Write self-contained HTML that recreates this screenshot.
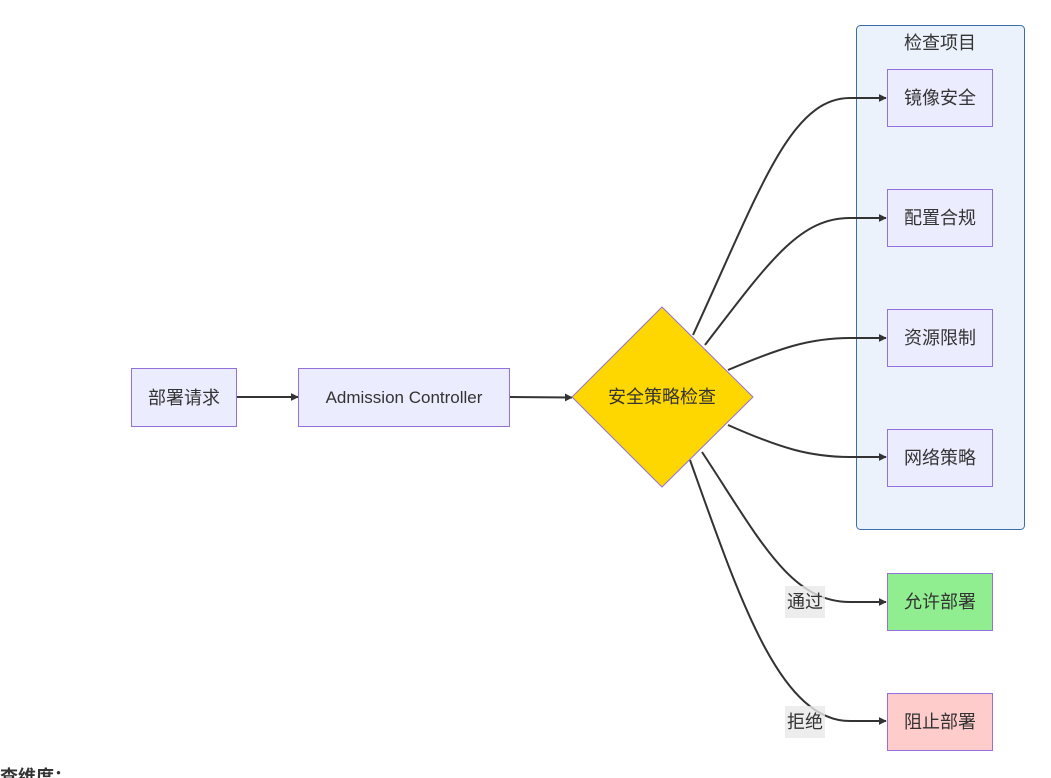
<!DOCTYPE html>
<html><head><meta charset="utf-8"><style>
html,body{margin:0;padding:0;background:#fff;width:1051px;height:778px;overflow:hidden}
text{font-family:"Liberation Sans","Noto Sans CJK SC",sans-serif;fill:#333}
</style></head><body>
<svg width="1051" height="778" viewBox="0 0 1051 778" xmlns="http://www.w3.org/2000/svg">
<defs><marker id="a" viewBox="0 0 10 10" refX="9" refY="5" markerWidth="8" markerHeight="8" markerUnits="userSpaceOnUse" orient="auto"><path d="M0,0L10,5L0,10z" fill="#333"/></marker></defs>
<rect x="856.5" y="25.5" width="168" height="504" rx="4" fill="#ebf2fc" stroke="#3b6ea8" stroke-width="1"/>
<text x="940" y="49" font-size="18" text-anchor="middle">检查项目</text>
<g fill="none" stroke="#333" stroke-width="2" marker-end="url(#a)">
<path d="M236,397 L298,397"/>
<path d="M509,397 L572,397.5"/>
<path d="M693,335 C760,190 790,98 850,98 L886,98"/>
<path d="M705,345 C770,260 800,218 850,218 L886,218"/>
<path d="M728,370 C780,348 810,338 850,338 L886,338"/>
<path d="M728,425 C780,448 810,457 850,457 L886,457"/>
<path d="M702,452 C760,540 790,602 850,602 L886,602"/>
<path d="M690,460 C740,600 780,721 850,721 L886,721"/>
</g>
<rect x="131.5" y="368.5" width="105" height="58" fill="#ececff" stroke="#9370db"/>
<text x="184" y="404" font-size="18" text-anchor="middle">部署请求</text>
<rect x="298.5" y="368.5" width="211" height="58" fill="#ececff" stroke="#9370db"/>
<text x="404" y="403" font-size="17" text-anchor="middle">Admission Controller</text>
<polygon points="662,307 753,397 662,487 572,397" fill="#ffd700" stroke="#9370db"/>
<text x="662" y="403" font-size="18" text-anchor="middle">安全策略检查</text>
<g font-size="18" text-anchor="middle">
<rect x="887.5" y="69.5" width="105" height="57" fill="#ececff" stroke="#9370db"/><text x="940" y="104">镜像安全</text>
<rect x="887.5" y="189.5" width="105" height="57" fill="#ececff" stroke="#9370db"/><text x="940" y="224">配置合规</text>
<rect x="887.5" y="309.5" width="105" height="57" fill="#ececff" stroke="#9370db"/><text x="940" y="344">资源限制</text>
<rect x="887.5" y="429.5" width="105" height="57" fill="#ececff" stroke="#9370db"/><text x="940" y="464">网络策略</text>
<rect x="887.5" y="573.5" width="105" height="57" fill="#90ee90" stroke="#9370db"/><text x="940" y="608">允许部署</text>
<rect x="887.5" y="693.5" width="105" height="57" fill="#ffcccc" stroke="#9370db"/><text x="940" y="728">阻止部署</text>
<rect x="785" y="586" width="40" height="32" fill="#e8e8e8" opacity="0.8"/><text x="805" y="608">通过</text>
<rect x="785" y="706" width="40" height="32" fill="#e8e8e8" opacity="0.8"/><text x="805" y="728">拒绝</text>
</g>
<text x="-18" y="783" font-size="18" font-weight="bold">检查维度：</text>
</svg>
</body></html>
